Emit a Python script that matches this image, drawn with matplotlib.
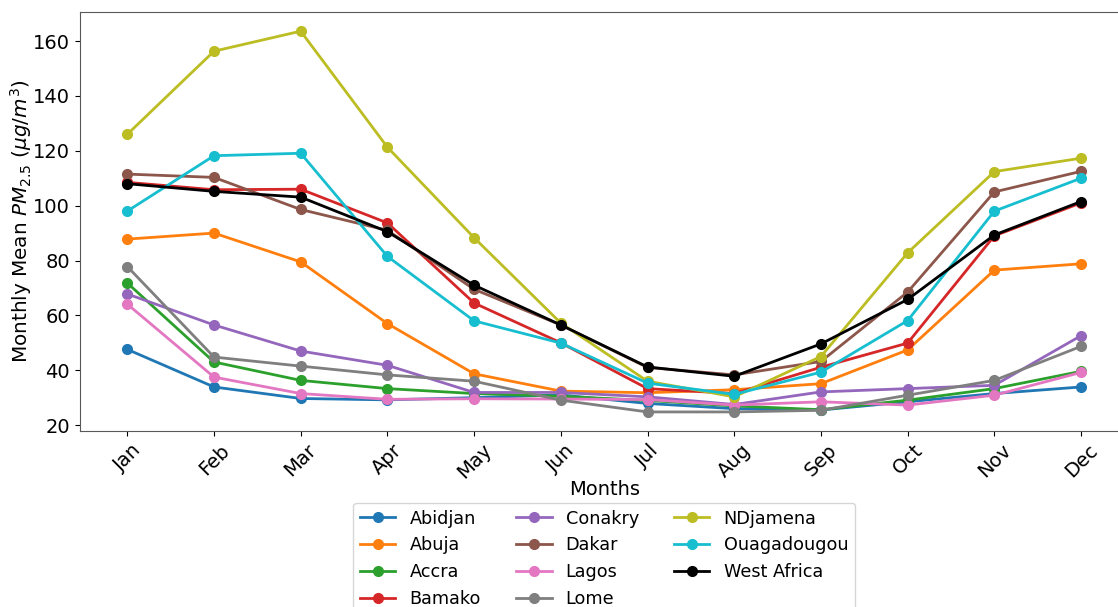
import matplotlib
matplotlib.use("Agg")
import matplotlib.pyplot as plt

# -----------------------------
# Data (monthly mean PM2.5, ug/m3)
# -----------------------------
months = ["Jan", "Feb", "Mar", "Apr", "May", "Jun",
          "Jul", "Aug", "Sep", "Oct", "Nov", "Dec"]

abidjan = [47.6, 33.9, 29.7, 29.2, 30.0, 31.0, 27.9, 26.0, 25.5, 28.5, 31.5, 33.9]
abuja = [87.8, 90.0, 79.5, 57.0, 38.7, 32.4, 31.8, 32.9, 35.1, 47.4, 76.5, 78.8]
accra = [71.8, 43.0, 36.3, 33.3, 31.5, 30.5, 29.0, 27.0, 25.6, 29.1, 33.3, 39.6]
bamako = [108.5, 105.8, 106.0, 93.7, 64.5, 50.0, 33.3, 31.5, 41.1, 49.9, 89.0, 101.0]
conakry = [67.8, 56.5, 47.0, 41.8, 31.9, 31.9, 30.3, 27.5, 32.1, 33.3, 34.5, 52.6]
dakar = [111.5, 110.3, 98.6, 91.0, 69.5, 56.5, 41.0, 38.3, 43.2, 68.5, 105.0, 112.5]
lagos = [64.1, 37.5, 31.5, 29.4, 29.6, 29.5, 29.3, 27.3, 28.5, 27.3, 30.9, 39.2]
lome = [77.8, 44.8, 41.5, 38.3, 36.0, 29.1, 24.8, 24.8, 25.4, 30.9, 36.3, 48.7]
ndjamena = [126.0, 156.3, 163.6, 121.3, 88.3, 57.2, 36.0, 30.3, 45.0, 82.8, 112.4, 117.3]
ouaga = [98.0, 118.2, 119.1, 81.5, 58.0, 49.9, 35.3, 31.2, 39.3, 58.1, 98.0, 110.0]
west_africa = [108.0, 105.2, 103.1, 90.5, 71.0, 56.5, 41.2, 37.8, 49.6, 65.8, 89.3, 101.5]

series = [
    ("Abidjan", abidjan, "tab:blue"),
    ("Abuja", abuja, "tab:orange"),
    ("Accra", accra, "tab:green"),
    ("Bamako", bamako, "tab:red"),
    ("Conakry", conakry, "tab:purple"),
    ("Dakar", dakar, "tab:brown"),
    ("Lagos", lagos, "tab:pink"),
    ("Lome", lome, "tab:gray"),
    ("NDjamena", ndjamena, "tab:olive"),
    ("Ouagadougou", ouaga, "tab:cyan"),
    ("West Africa", west_africa, "black"),
]

# -----------------------------
# Plot
# -----------------------------
fig = plt.figure(figsize=(11.18, 6.07), dpi=100)
ax = fig.add_axes([0.0712, 0.29, 0.9384, 0.690])

for name, vals, col in series:
    ax.plot(months, vals, marker="o", color=col, label=name,
            linewidth=2, markersize=7)

ax.set_xlabel("Months", fontsize=14, labelpad=-2)
ax.set_ylabel(r"Monthly Mean $PM_{2.5}$ ($\mu g/m^3$)", fontsize=14.4, labelpad=-0.5)
ax.tick_params(axis="both", labelsize=14)
plt.setp(ax.get_xticklabels(), rotation=45)
for s in ax.spines.values():
    s.set_color("0.35")

ax.legend(loc="upper center", bbox_to_anchor=(0.5, -0.15), ncol=3,
          fontsize=12.7, handlelength=2.0, columnspacing=2.0,
          labelspacing=0.5)

fig.savefig("out.png", dpi=100)
